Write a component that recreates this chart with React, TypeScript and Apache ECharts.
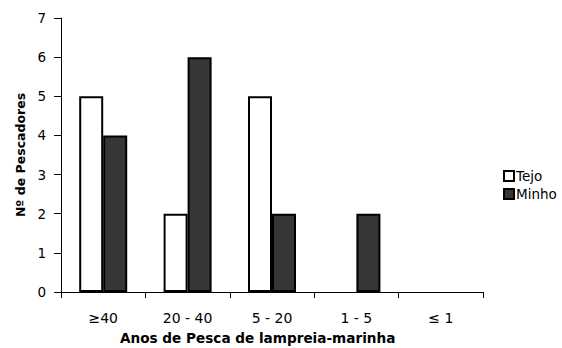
import React, { useEffect, useRef } from "react";
import * as echarts from "echarts";

const categories = ["≥40", "20 - 40", "5 - 20", "1 - 5", "≤ 1"];
const tejo = [5, 2, 5, 0, 0];
const minho = [4, 6, 2, 2, 0];
const yTicks = [0, 1, 2, 3, 4, 5, 6, 7];

export default function App() {
  const ref = useRef<HTMLDivElement>(null);
  useEffect(() => {
    const chart = echarts.init(ref.current!, null, { renderer: "svg" });
    const font = "'DejaVu Sans', Arial, sans-serif";
    const noZero = (arr: number[]) => arr.map((v) => (v === 0 ? null : v));
    chart.setOption({
      animation: false,
      backgroundColor: "#ffffff",
      textStyle: { fontFamily: font, color: "#000" },
      grid: { left: 61, right: 79, top: 18, bottom: 56 },
      legend: {
        orient: "vertical",
        left: 498,
        top: 164,
        itemWidth: 10,
        itemHeight: 10,
        itemGap: 4,
        icon: "rect",
        textStyle: { fontFamily: font, fontSize: 13.5, color: "#000", padding: [0, 0, 0, -3] },
        data: ["Tejo", "Minho"],
      },
      xAxis: {
        type: "category",
        data: categories,
        axisLine: { lineStyle: { color: "#000", width: 1 } },
        axisTick: { show: true, length: 6, lineStyle: { color: "#000" } },
        axisLabel: { fontFamily: font, fontSize: 14, color: "#000", margin: 19 },
      },
      yAxis: {
        type: "value",
        min: 0,
        max: yTicks[yTicks.length - 1],
        interval: 1,
        name: "Nº de Pescadores",
        nameLocation: "middle",
        nameGap: 34,
        nameTextStyle: { fontFamily: font, fontSize: 12.5, fontWeight: "bold", color: "#000" },
        axisLine: { show: true, lineStyle: { color: "#000", width: 1 } },
        axisTick: { show: true, length: 7, lineStyle: { color: "#000" } },
        splitLine: { show: false },
        axisLabel: { fontFamily: font, fontSize: 13.5, color: "#000", margin: 15 },
      },
      graphic: [
        {
          type: "text",
          left: 120,
          top: 331,
          style: {
            text: "Anos de Pesca de lampreia-marinha",
            fontFamily: font,
            fontSize: 13.6,
            fontWeight: "bold",
            fill: "#000",
          },
        },
      ],
      series: [
        {
          name: "Tejo",
          type: "bar",
          data: noZero(tejo),
          barWidth: 24,
          barGap: "0%",
          itemStyle: { color: "#ffffff", borderColor: "#000", borderWidth: 2 },
        },
        {
          name: "Minho",
          type: "bar",
          data: noZero(minho),
          barWidth: 24,
          itemStyle: { color: "#363636", borderColor: "#000", borderWidth: 2 },
        },
      ],
    });
    return () => chart.dispose();
  }, []);
  return <div ref={ref} style={{ width: 562, height: 348, position: "absolute", left: 0, top: 0 }} />;
}
